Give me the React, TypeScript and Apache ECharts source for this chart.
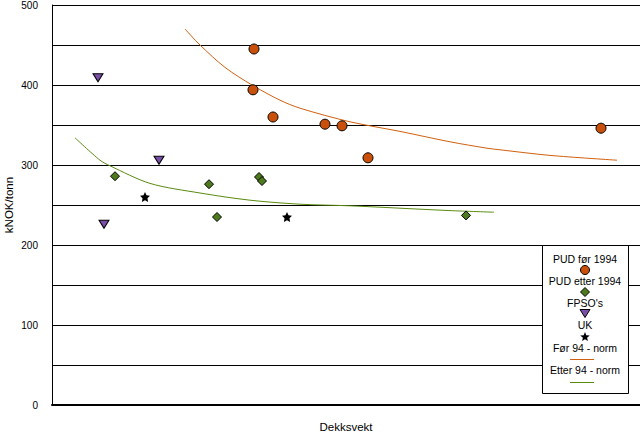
import React, { useEffect, useRef } from "react";
import * as echarts from "echarts";

// Dekksvekt (relative units, axis unlabelled) and kNOK/tonn
const pudFor94X = [202, 201, 221, 273, 290, 316, 549];
const pudFor94Y = [445, 394, 360, 351, 349, 309, 346];
const pudEtter94X = [63, 157, 207, 210, 165, 414];
const pudEtter94Y = [286, 276, 285, 280, 235, 237];
const fpsoX = [46, 52, 107];
const fpsoY = [409, 226, 306];
const ukX = [93, 235];
const ukY = [260, 235];
// trend lines
const forNormX = [133, 148, 173, 200, 228, 248, 298, 348, 398, 435, 448, 498, 565];
const forNormY = [470, 450, 422, 400, 381, 371, 354, 342, 329, 321, 319, 312, 306];
const etterNormX = [23, 48, 58, 98, 148, 198, 248, 298, 348, 398, 442];
const etterNormY = [334, 306, 299, 277, 265, 256, 251, 249, 246, 243, 241];

const yTicks = [0, 100, 200, 300, 400, 500];
const legendNames = ["PUD før 1994", "PUD etter 1994", "FPSO's", "UK", "Før 94 - norm", "Etter 94 - norm"];

const ORANGE = "#C8500A";
const GREEN = "#4E7A1E";
const PURPLE = "#7A4FA8";
const LINE_ORANGE = "#D0600F";
const LINE_GREEN = "#5A8A10";
const FONT = "'Liberation Sans', Arial, Helvetica, sans-serif";
const STAR = "path://M0,-10 L2.9,-4 9.5,-3.1 4.7,1.5 5.9,8.1 0,5 -5.9,8.1 -4.7,1.5 -9.5,-3.1 -2.9,-4 Z";

const zip = (xs: number[], ys: number[]) => xs.map((x, i) => [x, ys[i]]);

function starPoints(cx: number, cy: number, R: number, r: number) {
  const pts: number[][] = [];
  for (let i = 0; i < 10; i++) {
    const a = -Math.PI / 2 + (i * Math.PI) / 5;
    const rad = i % 2 === 0 ? R : r;
    pts.push([cx + rad * Math.cos(a), cy + rad * Math.sin(a)]);
  }
  return pts;
}

export default function App() {
  const ref = useRef<HTMLDivElement>(null);
  useEffect(() => {
    document.body.style.margin = "0";
    const chart = echarts.init(ref.current!, null, { renderer: "svg" });
    const lx = 585;
    const Z = 100;
    const text = (t: string, y: number) => ({
      type: "text",
      z: Z + 1,
      x: lx,
      y,
      style: { text: t, align: "center", verticalAlign: "middle", fontSize: 10.5, fontFamily: FONT, fill: "#000" },
    });
    chart.setOption({
      animation: false,
      grid: { left: 52, right: 0, top: 5, bottom: 29, containLabel: false, outerBoundsMode: "none" },
      xAxis: {
        type: "value",
        min: 0,
        max: 588,
        name: "Dekksvekt",
        nameLocation: "middle",
        nameGap: 16,
        nameMoveOverlap: false,
        nameTextStyle: { fontSize: 11.5, fontFamily: FONT, color: "#000" },
        axisLine: { show: true, onZero: false, lineStyle: { color: "#000", width: 2 } },
        axisTick: { show: false },
        axisLabel: { show: false },
        splitLine: { show: false },
      },
      yAxis: {
        type: "value",
        min: 0,
        max: 500,
        interval: 50,
        name: "kNOK/tonn",
        nameLocation: "middle",
        nameGap: 37,
        nameMoveOverlap: false,
        nameTextStyle: { fontSize: 11.5, fontFamily: FONT, color: "#000" },
        axisLine: { show: true, lineStyle: { color: "#000", width: 1 } },
        axisTick: { show: false },
        axisLabel: {
          margin: 14,
          fontSize: 10,
          fontFamily: FONT,
          color: "#000",
          formatter: (v: number) => (yTicks.includes(v) ? String(v) : ""),
        },
        splitLine: { show: true, lineStyle: { color: "#000", width: 1 } },
      },
      series: [
        {
          name: legendNames[4],
          type: "line",
          data: zip(forNormX, forNormY),
          smooth: 0.3,
          symbol: "none",
          lineStyle: { color: LINE_ORANGE, width: 1 },
          z: 1,
        },
        {
          name: legendNames[5],
          type: "line",
          data: zip(etterNormX, etterNormY),
          smooth: 0.3,
          symbol: "none",
          lineStyle: { color: LINE_GREEN, width: 1 },
          z: 1,
        },
        {
          name: legendNames[0],
          type: "scatter",
          data: zip(pudFor94X, pudFor94Y),
          symbol: "circle",
          symbolSize: 10,
          itemStyle: { color: ORANGE, borderColor: "#000", borderWidth: 1, opacity: 1 },
          z: 3,
        },
        {
          name: legendNames[1],
          type: "scatter",
          data: zip(pudEtter94X, pudEtter94Y),
          symbol: "diamond",
          symbolSize: 9,
          itemStyle: { color: GREEN, borderColor: "#000", borderWidth: 1, opacity: 1 },
          z: 3,
        },
        {
          name: legendNames[2],
          type: "scatter",
          data: zip(fpsoX, fpsoY),
          symbol: "triangle",
          symbolRotate: 180,
          symbolSize: [10, 8],
          itemStyle: { color: PURPLE, borderColor: "#000", borderWidth: 1, opacity: 1 },
          z: 3,
        },
        {
          name: legendNames[3],
          type: "scatter",
          data: zip(ukX, ukY),
          symbol: STAR,
          symbolSize: 10,
          itemStyle: { color: "#000", opacity: 1 },
          z: 3,
        },
      ],
      graphic: [
        {
          type: "rect",
          z: Z,
          shape: { x: 542.5, y: 245.5, width: 86, height: 148 },
          style: { fill: "#fff", stroke: "#000", lineWidth: 1 },
        },
        text(legendNames[0], 259),
        { type: "circle", z: Z + 1, shape: { cx: lx, cy: 270, r: 4.5 }, style: { fill: ORANGE, stroke: "#000", lineWidth: 1 } },
        text(legendNames[1], 281),
        { type: "polygon", z: Z + 1, shape: { points: [[lx, 287.5], [lx + 4.5, 292], [lx, 296.5], [lx - 4.5, 292]] }, style: { fill: GREEN, stroke: "#000", lineWidth: 1 } },
        text(legendNames[2], 303),
        { type: "polygon", z: Z + 1, shape: { points: [[lx - 5, 309.5], [lx + 5, 309.5], [lx, 317.5]] }, style: { fill: PURPLE, stroke: "#000", lineWidth: 1 } },
        text(legendNames[3], 325),
        { type: "polygon", z: Z + 1, shape: { points: starPoints(lx, 337, 5, 2.2) }, style: { fill: "#000" } },
        text(legendNames[4], 348),
        { type: "rect", z: Z + 1, shape: { x: 570, y: 359, width: 24, height: 1 }, style: { fill: LINE_ORANGE } },
        text(legendNames[5], 370),
        { type: "rect", z: Z + 1, shape: { x: 570, y: 382, width: 24, height: 1 }, style: { fill: LINE_GREEN } },
      ],
    });
    return () => chart.dispose();
  }, []);
  return <div ref={ref} style={{ width: 640, height: 434 }} />;
}
